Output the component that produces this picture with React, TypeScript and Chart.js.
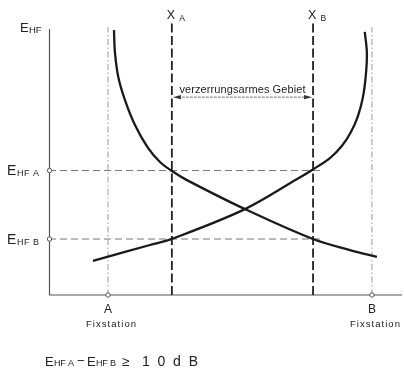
import { useEffect, useRef } from "react";
import { Chart, registerables } from "chart.js";

Chart.register(...registerables);

// ---- data (x: position between the stations, A = 0, B = 100; y: field strength level) ----
const stationNames = ["A", "B"];
const stationCaption = "Fixstation";
const stationX = [0, 100];
const limitNames = ["A", "B"];
const limitX = [24.2, 77.7];
const levelNames = ["A", "B"];
const levelY = [46.8, 21.05];

const curveAX = [2.27, 2.65, 3.9, 6.44, 10.23, 15.15, 19.7, 24.24, 29.9, 51.9, 77.65, 91.7, 101.9];
const curveAY = [99.6, 91.0, 82.0, 73.3, 63.9, 55.3, 50.0, 46.6, 43.2, 32.3, 21.05, 16.9, 14.3];
const curveBX = [-5.7, 15.9, 24.2, 51.9, 71.5, 77.8, 84.1, 88.6, 92.05, 94.7, 96.6, 97.7, 98.1, 97.3];
const curveBY = [12.8, 18.8, 21.1, 32.3, 43.5, 47.3, 51.5, 56.0, 61.3, 67.3, 74.4, 82.7, 91.0, 98.9];

const regionLabel = "verzerrungsarmes Gebiet";
const arrowY = 74.4;
const yTitle = ["E", "HF"];
const formulaParts = ["E", "HF A", "−", "E", "HF B", "≥", "10dB"];

const X_MIN = -22.35;
const X_MAX = 111.4;
const Y_MAX = 103.4;
const AXIS_TOP = 100;
const stationLineTop = 100.7;
const limitLineTop = 102.3;
const levelLineEnd = 81.5;

const FONT = '"Liberation Sans", Arial, sans-serif';
const INK = "#222";

function txt(
  ctx: CanvasRenderingContext2D,
  s: string,
  x: number,
  y: number,
  size: number,
  align: CanvasTextAlign = "left",
  fitWidth = 0
) {
  ctx.font = `${size}px ${FONT}`;
  (ctx as any).letterSpacing = "0px";
  let sp = 0;
  if (fitWidth > 0 && s.length > 1) {
    const w = ctx.measureText(s).width;
    sp = (fitWidth - w) / (s.length - 1);
  }
  (ctx as any).letterSpacing = `${sp}px`;
  ctx.textAlign = align;
  ctx.textBaseline = "alphabetic";
  let dx = 0;
  if (align === "center") dx = sp / 2;
  ctx.fillText(s, x + dx, y);
  (ctx as any).letterSpacing = "0px";
}

const annotations = {
  id: "annotations",
  beforeDatasetsDraw(chart: any) {
    const ctx: CanvasRenderingContext2D = chart.ctx;
    const xs = chart.scales.x;
    const ys = chart.scales.y;
    const px = (v: number) => xs.getPixelForValue(v);
    const py = (v: number) => ys.getPixelForValue(v);
    ctx.save();
    ctx.strokeStyle = "#555";
    ctx.lineWidth = 1.2;
    ctx.beginPath();
    ctx.moveTo(px(X_MIN) + 0.5, py(AXIS_TOP));
    ctx.lineTo(px(X_MIN) + 0.5, py(0));
    ctx.lineTo(px(X_MAX), py(0));
    ctx.stroke();
    ctx.restore();
  },
  afterDatasetsDraw(chart: any) {
    const ctx: CanvasRenderingContext2D = chart.ctx;
    const xs = chart.scales.x;
    const ys = chart.scales.y;
    const px = (v: number) => xs.getPixelForValue(v);
    const py = (v: number) => ys.getPixelForValue(v);
    ctx.save();

    // small open circles
    const circ = (x: number, y: number) => {
      ctx.beginPath();
      ctx.arc(x, y, 2.2, 0, Math.PI * 2);
      ctx.fillStyle = "#fff";
      ctx.fill();
      ctx.strokeStyle = "#555";
      ctx.lineWidth = 1;
      ctx.stroke();
    };
    levelY.forEach((v) => circ(px(X_MIN) + 0.5, py(v)));
    stationX.forEach((v) => circ(px(v), py(0)));

    // arrow for region
    const ax0 = px(limitX[0]);
    const ax1 = px(limitX[1]);
    const ay = py(arrowY);
    ctx.strokeStyle = "#777";
    ctx.lineWidth = 1;
    ctx.setLineDash([3, 1]);
    ctx.beginPath();
    ctx.moveTo(ax0 + 6, ay);
    ctx.lineTo(ax1 - 6, ay);
    ctx.stroke();
    ctx.setLineDash([]);
    ctx.fillStyle = "#333";
    ctx.beginPath();
    ctx.moveTo(ax0 + 1, ay);
    ctx.lineTo(ax0 + 9, ay - 2.2);
    ctx.lineTo(ax0 + 9, ay + 2.2);
    ctx.closePath();
    ctx.fill();
    ctx.beginPath();
    ctx.moveTo(ax1 - 1, ay);
    ctx.lineTo(ax1 - 9, ay - 2.2);
    ctx.lineTo(ax1 - 9, ay + 2.2);
    ctx.closePath();
    ctx.fill();

    ctx.fillStyle = INK;
    txt(ctx, regionLabel, (ax0 + ax1) / 2, ay - 4.5, 11, "center", 126);

    // y-axis title E_HF
    const ox = px(X_MIN);
    const top = py(AXIS_TOP);
    txt(ctx, yTitle[0], ox - 29, top + 3, 13);
    txt(ctx, yTitle[1], ox - 20, top + 3.5, 9.5);

    // level labels E_HF A / E_HF B
    levelY.forEach((v, i) => {
      const y = py(v);
      txt(ctx, "E", ox - 42, y + 4.5, 14);
      txt(ctx, "HF " + levelNames[i], ox - 32, y + 5.5, 9, "left", 22);
    });

    // limit labels X_A / X_B
    limitX.forEach((v, i) => {
      const x = px(v);
      txt(ctx, "X", x - 1, 19, 12.5, "center");
      txt(ctx, limitNames[i], x + 7.5, 21, 8.5);
    });

    // station labels
    stationX.forEach((v, i) => {
      const x = px(v);
      txt(ctx, stationNames[i], x, py(0) + 18, 12, "center");
      txt(ctx, stationCaption, x + 3, py(0) + 32, 9.5, "center", 50);
    });

    // formula
    const fy = 366;
    txt(ctx, formulaParts[0], 45, fy, 13);
    txt(ctx, formulaParts[1], 54, fy, 9, "left", 20);
    txt(ctx, formulaParts[2], 77, fy - 1, 13);
    txt(ctx, formulaParts[3], 87, fy, 13);
    txt(ctx, formulaParts[4], 96, fy, 9, "left", 20);
    txt(ctx, formulaParts[5], 122, fy, 13.5);
    txt(ctx, formulaParts[6], 142, fy, 14, "left", 56);

    ctx.restore();
  },
};

export default function App() {
  const ref = useRef<HTMLCanvasElement | null>(null);
  useEffect(() => {
    if (!ref.current) return;
    const ds = (data: { x: number; y: number }[], extra: any) => ({
      data,
      showLine: true,
      pointRadius: 0,
      pointHoverRadius: 0,
      fill: false,
      ...extra,
    });
    const curveStyle = { borderColor: "#1a1a1a", borderWidth: 2.3, tension: 0.35, order: 0 };
    const chart = new Chart(ref.current, {
      type: "scatter",
      data: {
        datasets: [
          ds(curveAX.map((x, i) => ({ x, y: curveAY[i] })), curveStyle),
          ds(curveBX.map((x, i) => ({ x, y: curveBY[i] })), curveStyle),
          ...limitX.map((x) =>
            ds(
              [
                { x, y: 0 },
                { x, y: limitLineTop },
              ],
              { borderColor: "#222", borderWidth: 1.8, borderDash: [9, 3.5], order: 1 }
            )
          ),
          ...stationX.map((x) =>
            ds(
              [
                { x, y: 0 },
                { x, y: stationLineTop },
              ],
              { borderColor: "#9a9a9a", borderWidth: 1, borderDash: [6, 2.5, 1.5, 2.5], order: 2 }
            )
          ),
          ...levelY.map((y) =>
            ds(
              [
                { x: X_MIN, y },
                { x: levelLineEnd, y },
              ],
              { borderColor: "#777", borderWidth: 1, borderDash: [7, 4], order: 2 }
            )
          ),
        ],
      },
      options: {
        responsive: false,
        animation: false,
        events: [],
        layout: { padding: { left: 49, right: 2, top: 20, bottom: 78 } },
        plugins: { legend: { display: false }, tooltip: { enabled: false } },
        scales: {
          x: { type: "linear", display: false, min: X_MIN, max: X_MAX },
          y: { type: "linear", display: false, min: 0, max: Y_MAX },
        },
      },
      plugins: [annotations],
    });
    return () => chart.destroy();
  }, []);
  return (
    <div style={{ position: "absolute", left: 0, top: 0, width: 404, height: 373, background: "#fff" }}>
      <canvas ref={ref} width={404} height={373} />
    </div>
  );
}
